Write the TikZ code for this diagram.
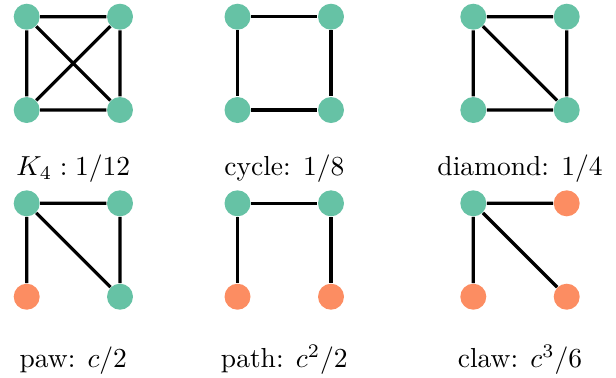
\documentclass[tikz,border=0pt]{standalone}
\begin{document}
\begin{tikzpicture}[x=0.3636pt,y=-0.3636pt,
  vg/.style={circle,fill=setgreen,inner sep=0pt,minimum size=9.45pt},
  vo/.style={circle,fill=setorange,inner sep=0pt,minimum size=9.45pt},
  edge/.style={line width=1.16pt,black},
  lab/.style={anchor=base,inner sep=0pt}]
\definecolor{setgreen}{HTML}{66C2A5}
\definecolor{setorange}{HTML}{FC8D62}
\useasboundingbox (0,0) rectangle (616,377);
% K4
\node[vg] (a1) at (26.7,16.7) {};
\node[vg] (a2) at (120,16.7) {};
\node[vg] (a3) at (26.7,110) {};
\node[vg] (a4) at (120,110) {};
\draw[edge] (a1)--(a2) (a1)--(a3) (a1)--(a4) (a2)--(a3) (a2)--(a4) (a3)--(a4);
\node[lab] (la) at (73.3,175) {$K_4: 1/12$};
% cycle
\node[vg] (b1) at (237.5,16.7) {};
\node[vg] (b2) at (331,16.7) {};
\node[vg] (b3) at (237.5,110) {};
\node[vg] (b4) at (331,110) {};
\draw[edge] (b1)--(b2) (b1)--(b3) (b2)--(b4) (b3)--(b4);
\node[lab] (lb) at (284.3,175) {cycle: $1/8$};
% diamond
\node[vg] (c1) at (473.3,16.7) {};
\node[vg] (c2) at (566.7,16.7) {};
\node[vg] (c3) at (473.3,110) {};
\node[vg] (c4) at (566.7,110) {};
\draw[edge] (c1)--(c2) (c1)--(c3) (c1)--(c4) (c2)--(c4) (c3)--(c4);
\node[lab] (lc) at (520,175) {diamond: $1/4$};
% paw
\node[vg] (d1) at (26.7,203.3) {};
\node[vg] (d2) at (120,203.3) {};
\node[vo] (d3) at (26.7,296.7) {};
\node[vg] (d4) at (120,296.7) {};
\draw[edge] (d1)--(d2) (d1)--(d3) (d1)--(d4) (d2)--(d4);
\node[lab] (ld) at (73.3,367) {paw: $c/2$};
% path
\node[vg] (e1) at (237.5,203.3) {};
\node[vg] (e2) at (331,203.3) {};
\node[vo] (e3) at (237.5,296.7) {};
\node[vo] (e4) at (331,296.7) {};
\draw[edge] (e1)--(e2) (e1)--(e3) (e2)--(e4);
\node[lab] (le) at (284.3,367) {path: $c^2/2$};
% claw
\node[vg] (f1) at (473.3,203.3) {};
\node[vo] (f2) at (566.7,203.3) {};
\node[vo] (f3) at (473.3,296.7) {};
\node[vo] (f4) at (566.7,296.7) {};
\draw[edge] (f1)--(f2) (f1)--(f3) (f1)--(f4);
\node[lab] (lf) at (520,367) {claw: $c^3/6$};
\end{tikzpicture}
\end{document}
